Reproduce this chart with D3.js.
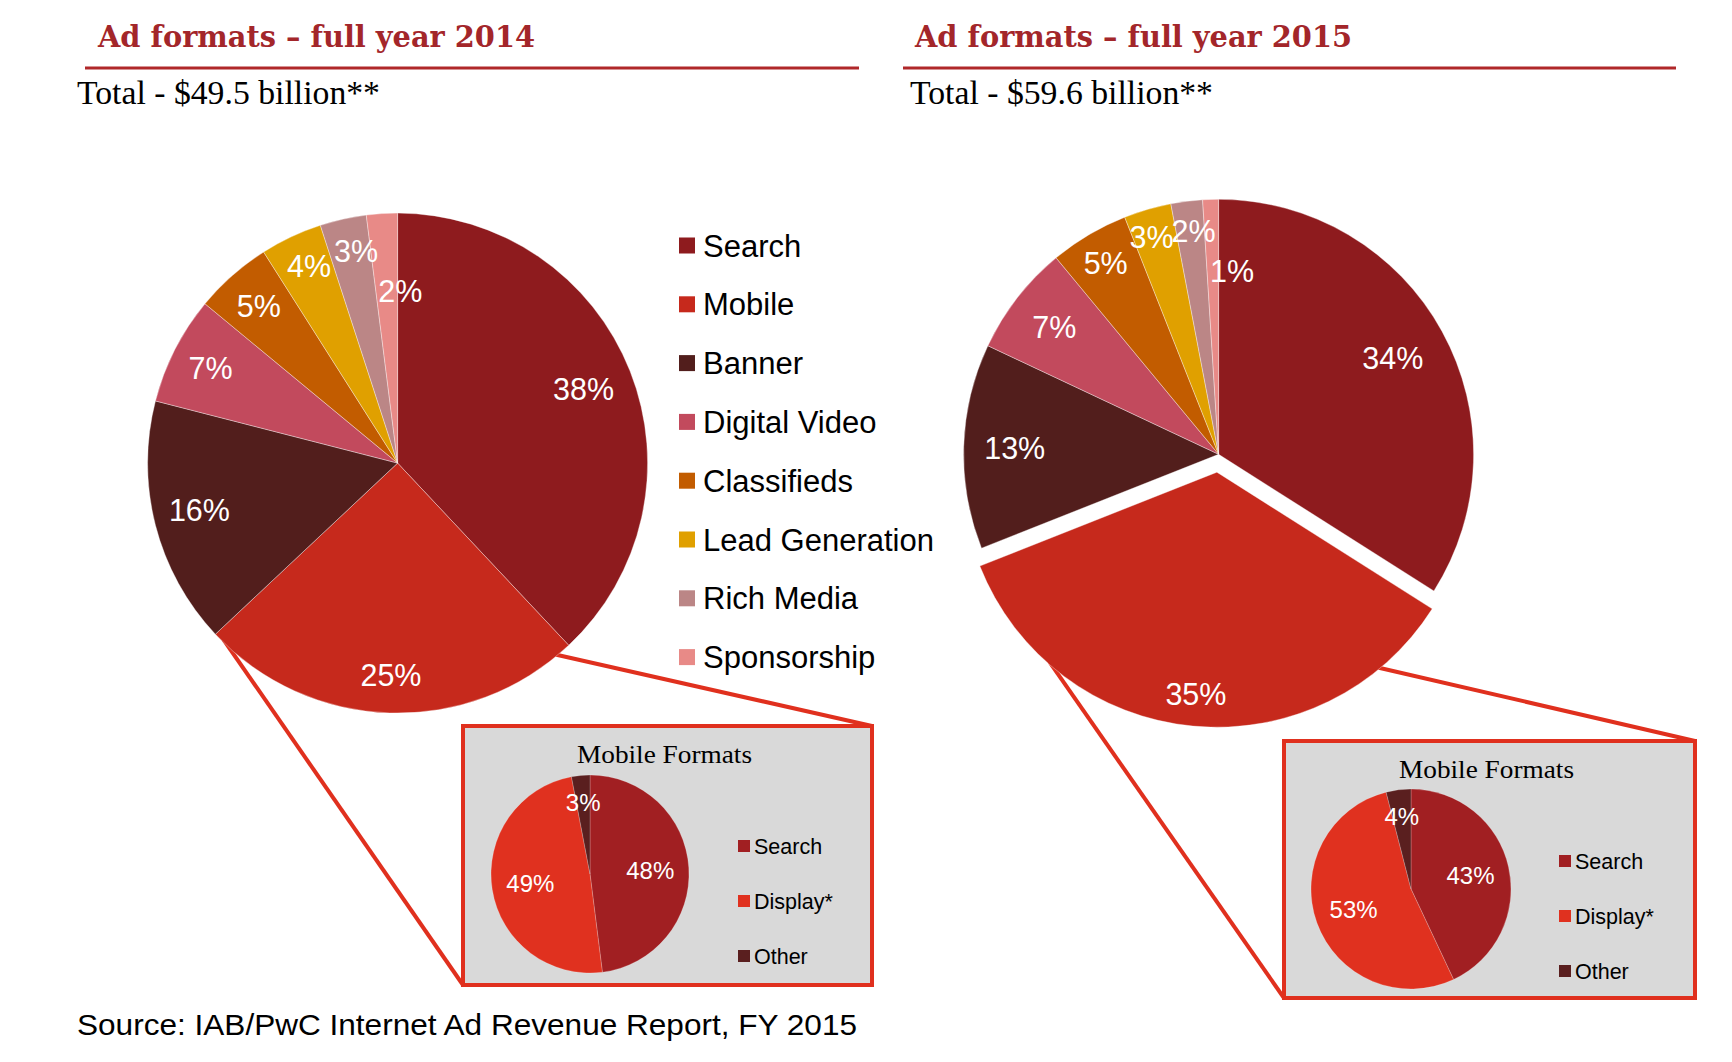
<!DOCTYPE html>
<html>
<head>
<meta charset="utf-8">
<script src="https://cdn.jsdelivr.net/npm/d3@7"></script>
<style>
  html, body { margin: 0; padding: 0; background: #fff; }
  svg { display: block; }
</style>
</head>
<body>
<svg id="chart" width="1732" height="1062"></svg>
<script>
// ---------------- DATA ----------------
const formats = ["Search", "Mobile", "Banner", "Digital Video", "Classifieds", "Lead Generation", "Rich Media", "Sponsorship"];
const share2014 = [38, 25, 16, 7, 5, 4, 3, 2];
const share2015 = [34, 35, 13, 7, 5, 3, 2, 1];
const mobileFormats = ["Search", "Display*", "Other"];
const mobile2014 = [48, 49, 3];
const mobile2015 = [43, 53, 4];
const titles = ["Ad formats \u2013 full year 2014", "Ad formats \u2013 full year 2015"];
const totals = ["Total - $49.5 billion**", "Total - $59.6 billion**"];
const insetTitle = "Mobile Formats";
const sourceNote = "Source: IAB/PwC Internet Ad Revenue Report, FY 2015";

// ---------------- STYLE / LAYOUT ----------------
const formatColors = ["#8E1B1E", "#C6291C", "#521E1C", "#C24A5D", "#C25C00", "#E0A000", "#BB8686", "#E88A87"];
const mobileColors = ["#A11F22", "#E0311F", "#5A1F1F"];
const accent = "#E0301E";
const titleRed = "#A3262A";

const panels = [
  { values: share2014, mobile: mobile2014, cx: 397.6, cy: 463.1, r: 250, explode: 0,
    titleX: 98, titleW: 437, ruleX1: 85, ruleX2: 859, totalX: 77, totalW: 303,
    box: { x: 463, y: 726, w: 409, h: 259 }, insetR: 99, connect: [140.5, 224.5],
    labelAdj: { 0: [0.80, 0], 1: [0.85, 0], 2: [0.815, 1], 3: [0.84, 0], 4: [0.84, 0],
                5: [0.865, 1], 6: [0.865, 1.5], 7: [0.69, 4.5] } },
  { values: share2015, mobile: mobile2015, cx: 1218.6, cy: 454.3, r: 255, explode: 18,
    titleX: 915, titleW: 437, ruleX1: 903, ruleX2: 1676, totalX: 910, totalW: 303,
    box: { x: 1284, y: 741, w: 411, h: 257 }, insetR: 100, connect: [140.5, 221.5],
    labelAdj: { 0: [0.78, 0], 1: [0.875, 0], 2: [0.80, 0], 3: [0.815, 0], 4: [0.87, 0],
                5: [0.89, -1], 6: [0.88, 0.8], 7: [0.72, 6] } }
];

const svg = d3.select("#chart");
const rad = d => d * Math.PI / 180;
const pie = d3.pie().sort(null).value(d => d);
const sans = "'Liberation Sans', Arial, Helvetica, sans-serif";
const serif = "'Liberation Serif', 'Times New Roman', serif";
const serifBold = "'DejaVu Serif', 'Liberation Serif', serif";

panels.forEach((p, pi) => {
  const g = svg.append("g");

  // header
  g.append("text").attr("x", p.titleX).attr("y", 47)
    .attr("textLength", p.titleW).attr("lengthAdjust", "spacingAndGlyphs")
    .style("font-family", serifBold).style("font-weight", "bold").style("font-size", "30px")
    .attr("fill", titleRed).text(titles[pi]);
  g.append("line").attr("x1", p.ruleX1).attr("x2", p.ruleX2).attr("y1", 68).attr("y2", 68)
    .attr("stroke", "#B0282A").attr("stroke-width", 3);
  g.append("text").attr("x", p.totalX).attr("y", 104)
    .attr("textLength", p.totalW).attr("lengthAdjust", "spacingAndGlyphs")
    .style("font-family", serif).style("font-size", "33px")
    .attr("fill", "#000").text(totals[pi]);

  const arcs = pie(p.values);
  const arc = d3.arc().innerRadius(0).outerRadius(p.r);
  const offset = (d, i) => {
    if (i !== 1 || !p.explode) return [0, 0];
    const m = (d.startAngle + d.endAngle) / 2;
    return [Math.sin(m) * p.explode, -Math.cos(m) * p.explode];
  };

  // connector lines (drawn beneath the pie)
  const mob = arcs[1];
  const mo = offset(mob, 1);
  const b = p.box;
  const corners = [[b.x + b.w, b.y], [b.x, b.y + b.h]];
  p.connect.forEach((a, k) => {
    const sx = p.cx + mo[0] + Math.sin(rad(a)) * (p.r - 2);
    const sy = p.cy + mo[1] - Math.cos(rad(a)) * (p.r - 2);
    g.append("line").attr("x1", sx).attr("y1", sy)
      .attr("x2", corners[k][0]).attr("y2", corners[k][1])
      .attr("stroke", accent).attr("stroke-width", 4);
  });

  // main pie
  const pg = g.append("g").attr("transform", `translate(${p.cx},${p.cy})`);
  pg.selectAll("path").data(arcs).join("path")
    .attr("transform", (d, i) => { const o = offset(d, i); return `translate(${o[0]},${o[1]})`; })
    .attr("d", arc)
    .attr("fill", (d, i) => formatColors[i])
    .attr("stroke", "#ffffff").attr("stroke-opacity", 0.45).attr("stroke-width", 0.8);

  pg.selectAll("text").data(arcs).join("text")
    .each(function (d, i) {
      const adj = p.labelAdj[i] || [0.83, 0];
      const m = (d.startAngle + d.endAngle) / 2 + rad(adj[1]);
      const R = p.r * adj[0];
      const o = offset(d, i);
      d3.select(this)
        .attr("x", o[0] + Math.sin(m) * R)
        .attr("y", o[1] - Math.cos(m) * R)
        .attr("dy", "0.36em");
    })
    .attr("text-anchor", "middle")
    .style("font-family", sans).style("font-size", "30.5px")
    .attr("fill", "#fff")
    .text(d => d.data + "%");

  // inset box
  const ig = g.append("g").attr("transform", `translate(${b.x},${b.y})`);
  ig.append("rect").attr("x", 0).attr("y", 0).attr("width", b.w).attr("height", b.h)
    .attr("fill", "#D9D9D9").attr("stroke", accent).attr("stroke-width", 4);
  ig.append("text").attr("x", b.w / 2 - 3).attr("y", 37)
    .attr("text-anchor", "middle")
    .attr("textLength", 175).attr("lengthAdjust", "spacingAndGlyphs")
    .style("font-family", serif).style("font-size", "25px")
    .attr("fill", "#000").text(insetTitle);

  const iarcs = pie(p.mobile);
  const iarc = d3.arc().innerRadius(0).outerRadius(p.insetR);
  const ipg = ig.append("g").attr("transform", `translate(127,148)`);
  ipg.selectAll("path").data(iarcs).join("path")
    .attr("d", iarc)
    .attr("fill", (d, i) => mobileColors[i])
    .attr("stroke", "#ffffff").attr("stroke-opacity", 0.35).attr("stroke-width", 0.6);
  ipg.selectAll("text").data(iarcs).join("text")
    .each(function (d, i) {
      const m = (d.startAngle + d.endAngle) / 2;
      const R = p.insetR * (d.data < 10 ? 0.73 : 0.61);
      d3.select(this).attr("x", Math.sin(m) * R).attr("y", -Math.cos(m) * R).attr("dy", "0.36em");
    })
    .attr("text-anchor", "middle")
    .style("font-family", sans).style("font-size", "24px")
    .attr("fill", "#fff")
    .text(d => d.data + "%");

  const ileg = ig.selectAll("g.leg").data(mobileFormats).join("g").attr("class", "leg")
    .attr("transform", (d, i) => `translate(275,${120 + 55 * i})`);
  ileg.append("rect").attr("x", 0).attr("y", -6).attr("width", 12).attr("height", 12)
    .attr("fill", (d, i) => mobileColors[i]);
  ileg.append("text").attr("x", 16).attr("y", 0).attr("dy", "0.36em")
    .style("font-family", sans).style("font-size", "21.5px")
    .attr("fill", "#000").text(d => d);
});

// main legend
const leg = svg.append("g").selectAll("g").data(formats).join("g")
  .attr("transform", (d, i) => `translate(679,${245.5 + 58.8 * i})`);
leg.append("rect").attr("x", 0).attr("y", -8).attr("width", 16).attr("height", 16)
  .attr("fill", (d, i) => formatColors[i]);
leg.append("text").attr("x", 24).attr("y", 0).attr("dy", "0.36em")
  .style("font-family", sans).style("font-size", "31px")
  .attr("fill", "#000").text(d => d);

// source
svg.append("text").attr("x", 77).attr("y", 1035)
  .attr("textLength", 780).attr("lengthAdjust", "spacingAndGlyphs")
  .style("font-family", sans).style("font-size", "29px")
  .attr("fill", "#000").text(sourceNote);
</script>
</body>
</html>
